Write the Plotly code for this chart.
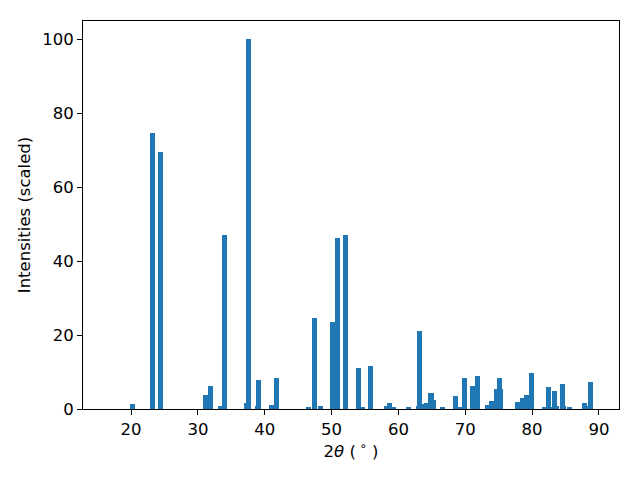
import plotly.graph_objects as go

two_theta = [20.18, 23.17, 24.41, 31.09, 31.84, 33.33, 33.93, 37.22, 37.52, 38.86, 39.01,
             40.96, 41.70, 46.49, 47.38, 48.28, 50.07, 50.82, 52.09, 53.96, 54.64, 55.89,
             58.15, 58.59, 59.19, 61.43, 62.93, 63.08, 63.38, 64.13, 64.87, 65.17, 66.59,
             68.53, 69.06, 69.88, 71.15, 71.90, 73.39, 73.99, 74.74, 75.11, 75.34, 77.83,
             78.62, 79.22, 79.97, 81.91, 82.36, 82.51, 82.66, 83.41, 83.71, 84.55, 84.75,
             85.54, 87.84, 88.07, 88.74]
intensity = [1.4, 74.8, 69.6, 3.8, 6.2, 0.8, 47.2, 1.6, 100.0, 0.8, 7.9,
             1.1, 8.4, 0.5, 24.7, 0.8, 23.6, 46.2, 47.0, 11.1, 0.3, 11.7,
             0.8, 1.6, 0.3, 0.3, 0.8, 21.2, 1.4, 1.6, 4.3, 2.4, 0.3,
             3.5, 0.5, 8.4, 6.2, 9.0, 1.1, 2.2, 5.4, 8.4, 5.4, 1.9,
             3.0, 3.8, 9.8, 0.3, 0.5, 6.0, 0.5, 4.9, 0.8, 6.8, 0.8,
             0.5, 1.6, 0.8, 7.3]

x_ticks = [20, 30, 40, 50, 60, 70, 80, 90]
y_ticks = [0, 20, 40, 60, 80, 100]

fig = go.Figure(go.Bar(
    x=two_theta, y=intensity, width=0.75,
    marker=dict(color="#1f77b4", line=dict(width=0)),
))

font = dict(family="DejaVu Sans", size=16.5, color="black")
fig.update_layout(
    width=640, height=480,
    margin=dict(l=83, r=21, t=21, b=71),
    plot_bgcolor="white", paper_bgcolor="white",
    showlegend=False, font=font, bargap=0,
)
fig.update_xaxes(
    range=[12.8, 93.0], tickvals=x_ticks, ticks="outside", ticklen=5, tickwidth=1,
    tickcolor="black", showline=True, linecolor="black", linewidth=1, mirror=True,
    showgrid=False, zeroline=False, tickfont=font, automargin=False,
    title=dict(text="2<i>θ</i> (<sup> ∘</sup> )", font=font, standoff=6),
)
fig.update_yaxes(
    range=[0, 105], tickvals=y_ticks, ticks="outside", ticklen=5, tickwidth=1,
    tickcolor="black", showline=True, linecolor="black", linewidth=1, mirror=True,
    showgrid=False, zeroline=False, tickfont=font, automargin=False,
    title=dict(text="Intensities (scaled)", font=font, standoff=7),
)
fig.write_html("out.html", config={"displayModeBar": False},
               post_script="document.body.style.margin='0';")
